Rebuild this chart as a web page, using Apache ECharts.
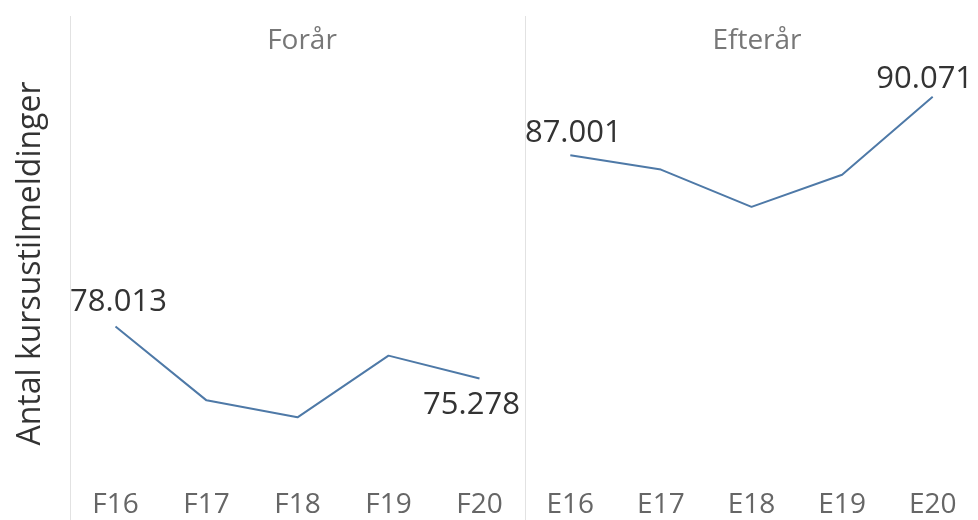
<!DOCTYPE html>
<html>
<head>
<meta charset="utf-8">
<script src="https://cdn.jsdelivr.net/npm/echarts@6/dist/echarts.min.js"></script>
<style>
  html, body { margin: 0; padding: 0; background: #fff; }
  #chart { width: 978px; height: 520px; }
</style>
</head>
<body>
<div id="chart"></div>
<script>
// data
const panelTitles = ['Forår', 'Efterår']
const springCats = ['F16', 'F17', 'F18', 'F19', 'F20']
const autumnCats = ['E16', 'E17', 'E18', 'E19', 'E20']
const springValues = [78013, 74130, 73240, 76480, 75278]
const autumnValues = [87001, 86250, 84290, 85980, 90071]

const FONT = '"Open Sans", "Noto Sans", sans-serif'
const LINE = '#4e79a7'

// 78013 -> 78.013
const fmt = (v) => String(v).replace(/\B(?=(\d{3})+(?!\d))/g, '.')

// only the first and last point get a label
const withEndLabels = (values, firstLabel, lastLabel) =>
  values.map((v, i) => {
    if (i === 0) return { value: v, label: firstLabel }
    if (i === values.length - 1) return { value: v, label: lastLabel }
    return v
  })

const labelBase = { show: true, formatter: (p) => fmt(p.value), fontSize: 31, color: '#333', fontFamily: FONT }

const chart = echarts.init(document.getElementById('chart'))

const xAxisBase = {
  type: 'category',
  boundaryGap: true,
  axisLine: { show: false },
  axisTick: { show: false },
  axisLabel: { fontSize: 28, color: '#666', fontFamily: FONT, margin: 12 }
}
const yAxisBase = {
  type: 'value',
  min: 70000,
  max: 94000,
  axisLine: { show: false },
  axisTick: { show: false },
  axisLabel: { show: false },
  splitLine: { show: false }
}

const seriesBase = {
  type: 'line',
  showSymbol: true,
  symbol: 'circle',
  symbolSize: 0,
  lineStyle: { color: LINE, width: 2 },
  itemStyle: { color: LINE }
}

chart.setOption({
  animation: false,
  title: [
    { text: panelTitles[0], left: 297, top: 22, textAlign: 'center',
      textStyle: { fontSize: 28, fontWeight: 'normal', color: '#777', fontFamily: FONT } },
    { text: panelTitles[1], left: 752, top: 22, textAlign: 'center',
      textStyle: { fontSize: 28, fontWeight: 'normal', color: '#777', fontFamily: FONT } }
  ],
  grid: [
    { left: 70, width: 455, top: 22, height: 457 },
    { left: 525, width: 455, top: 22, height: 457 }
  ],
  xAxis: [
    { ...xAxisBase, gridIndex: 0, data: springCats },
    { ...xAxisBase, gridIndex: 1, data: autumnCats }
  ],
  yAxis: [
    { ...yAxisBase, gridIndex: 0, name: 'Antal kursustilmeldinger', nameLocation: 'middle',
      nameRotate: 90, nameGap: 23,
      nameTextStyle: { fontSize: 32, color: '#333', fontFamily: FONT, padding: [0, 26, 0, 0] } },
    { ...yAxisBase, gridIndex: 1 }
  ],
  // panel dividers
  graphic: [
    { type: 'line', shape: { x1: 70.5, y1: 16, x2: 70.5, y2: 520 }, style: { stroke: '#e2e2e2', lineWidth: 1 } },
    { type: 'line', shape: { x1: 525.5, y1: 16, x2: 525.5, y2: 520 }, style: { stroke: '#e2e2e2', lineWidth: 1 } }
  ],
  series: [
    {
      ...seriesBase,
      xAxisIndex: 0,
      yAxisIndex: 0,
      data: withEndLabels(
        springValues,
        { ...labelBase, position: 'top', distance: 9, offset: [3, 0] },
        { ...labelBase, position: 'bottom', distance: 11, offset: [-8, 0] }
      )
    },
    {
      ...seriesBase,
      xAxisIndex: 1,
      yAxisIndex: 1,
      data: withEndLabels(
        autumnValues,
        { ...labelBase, position: 'top', distance: 7, offset: [3, 0] },
        { ...labelBase, position: 'top', distance: 2, offset: [-8, 0] }
      )
    }
  ]
})
</script>
</body>
</html>
